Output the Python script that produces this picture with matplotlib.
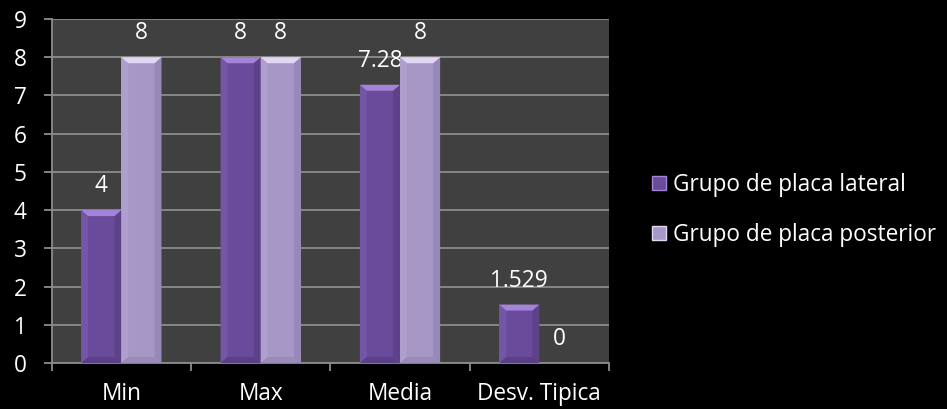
import matplotlib.pyplot as plt
import numpy as np
from matplotlib.patches import Polygon, Rectangle

categories = ['Min', 'Max', 'Media', 'Desv. Tipica']
lateral = [4, 8, 7.28, 1.529]
posterior = [8, 8, 8, 0]
lateral_labels = ['4', '8', '7.28', '1.529']
posterior_labels = ['8', '8', '8', '0']
series_names = ['Grupo de placa lateral', 'Grupo de placa posterior']

plt.rcParams['font.family'] = ['Open Sans', 'DejaVu Sans']
FS = 16.3

fig = plt.figure(figsize=(9.47, 4.09), dpi=100, facecolor='black')
ax = fig.add_axes([51.7 / 947, 46 / 409, (609 - 51.7) / 947, (363 - 19) / 409])
ax.set_facecolor('#404040')

x = np.arange(len(categories))
w = 0.288
styles = [
    dict(face='#6a4b9b', top='#a384d8', side_l='#7356a6', side_r='#5e4289', bottom='#5a4088'),
    dict(face='#a797c7', top='#e2d6f4', side_l='#ae9fcd', side_r='#9888b8', bottom='#9a8ab8'),
]

px_y = 9 / 344.0          # data units per pixel, vertical
px_x = 1 / 139.3          # data units per pixel, horizontal


def bevel_bar(patch, st):
    bx, bw, bh = patch.get_x(), patch.get_width(), patch.get_height()
    if bh <= 0:
        return
    d = 7 * px_x
    t = 6 * px_y
    s = min(t, bh / 2)
    # side and bottom shading
    ax.add_patch(Polygon([(bx, 0), (bx + d, s), (bx + d, bh - s), (bx, bh)],
                         closed=True, fc=st['side_l'], ec='none', zorder=3))
    ax.add_patch(Polygon([(bx + bw, 0), (bx + bw - d, s), (bx + bw - d, bh - s), (bx + bw, bh)],
                         closed=True, fc=st['side_r'], ec='none', zorder=3))
    ax.add_patch(Polygon([(bx, 0), (bx + bw, 0), (bx + bw - d, s), (bx + d, s)],
                         closed=True, fc=st['bottom'], ec='none', zorder=3))
    # light top bevel
    ax.add_patch(Polygon([(bx, bh), (bx + bw, bh), (bx + bw - d, bh - s), (bx + d, bh - s)],
                         closed=True, fc=st['top'], ec='none', zorder=3))


for vals, labels, off, st in [(lateral, lateral_labels, -w / 2, styles[0]),
                              (posterior, posterior_labels, w / 2, styles[1])]:
    bars = ax.bar(x + off, vals, w, color=st['face'], edgecolor='none', zorder=2)
    for b, lab in zip(bars, labels):
        bevel_bar(b, st)
        ax.annotate(lab, (b.get_x() + b.get_width() / 2, b.get_height()),
                    xytext=(0, 13), textcoords='offset points',
                    ha='center', va='baseline', color='white', fontsize=FS)

ax.set_xlim(-0.5, len(categories) - 0.5)
ax.set_ylim(0, 9)
ax.set_yticks(range(0, 10))
ax.yaxis.grid(True, color='#8c8c8c', linewidth=1.3, zorder=1)
ax.set_axisbelow(True)

ax.set_xticks(x)
ax.set_xticklabels(categories)
ax.set_xticks(np.arange(-0.5, len(categories)), minor=True)
ax.tick_params(axis='x', which='major', length=0, pad=14, labelsize=FS, labelcolor='white')
ax.tick_params(axis='x', which='minor', length=6, width=1.3, color='#8c8c8c', direction='out')
ax.tick_params(axis='y', length=6, width=1.3, color='#8c8c8c', labelsize=FS,
               labelcolor='white', pad=12)
for side in ['top', 'right']:
    ax.spines[side].set_visible(False)
for side in ['left', 'bottom']:
    ax.spines[side].set_color('#8c8c8c')
    ax.spines[side].set_linewidth(1.3)

# legend
handles = [Rectangle((0, 0), 1, 1, fc=styles[0]['face'], ec=styles[0]['top']),
           Rectangle((0, 0), 1, 1, fc=styles[1]['face'], ec=styles[1]['top'])]
fig.legend(handles, series_names, loc='center left', bbox_to_anchor=(643 / 947, 1 - 210 / 409),
           frameon=False, labelcolor='white', fontsize=FS, handlelength=0.62, handleheight=0.62,
           handletextpad=0.3, labelspacing=1.15, borderaxespad=0)

fig.savefig('out.png', dpi=100, facecolor='black')
